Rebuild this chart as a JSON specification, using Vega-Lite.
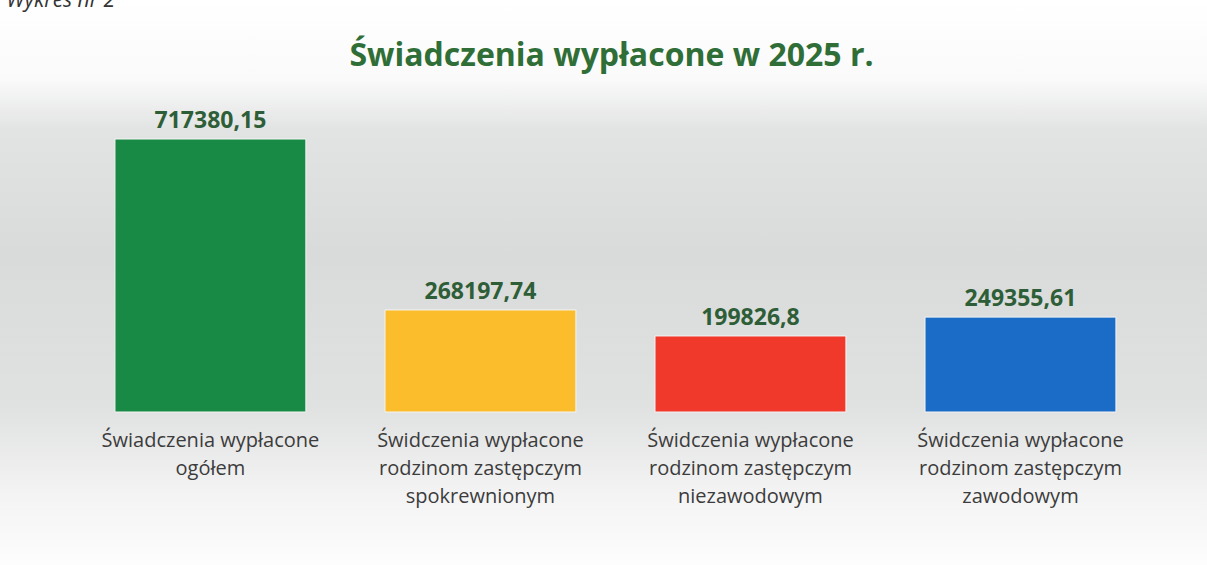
{
  "$schema": "https://vega.github.io/schema/vega-lite/v6.json",
  "width": 1207,
  "height": 565,
  "autosize": "none",
  "padding": 0,
  "background": "#ffffff",
  "config": {
    "locale": {"number": {"decimal": ",", "thousands": "\u00a0", "grouping": [3], "currency": ["", " zł"]}},
    "view": {
      "stroke": null,
      "fill": {
        "gradient": "linear", "x1": 0, "y1": 0, "x2": 0, "y2": 1,
        "stops": [
          {"offset": 0, "color": "#ffffff"},
          {"offset": 0.14, "color": "#fafafa"},
          {"offset": 0.23, "color": "#e2e3e3"},
          {"offset": 0.45, "color": "#d9dada"},
          {"offset": 0.72, "color": "#e0e1e1"},
          {"offset": 0.87, "color": "#f3f3f3"},
          {"offset": 1, "color": "#fdfdfd"}
        ]
      }
    },
    "font": "Open Sans"
  },
  "title": {
    "text": "Świadczenia wypłacone w 2025 r.",
    "anchor": "middle",
    "frame": "group",
    "fontSize": 32,
    "fontWeight": "bold",
    "font": "Open Sans",
    "color": "#2f6e36",
    "offset": -109,
    "baseline": "alphabetic",
    "dx": 8
  },
  "data": {
    "values": [
      {"kategoria": "Świadczenia wypłacone\nogółem", "wartosc": 717380.15, "kolor": "#188a45"},
      {"kategoria": "Świdczenia wypłacone\nrodzinom zastępczym\nspokrewnionym", "wartosc": 268197.74, "kolor": "#fbbd2b"},
      {"kategoria": "Świdczenia wypłacone\nrodzinom zastępczym\nniezawodowym", "wartosc": 199826.8, "kolor": "#f1392b"},
      {"kategoria": "Świdczenia wypłacone\nrodzinom zastępczym\nzawodowym", "wartosc": 249355.61, "kolor": "#1b6cc6"}
    ]
  },
  "encoding": {
    "x": {
      "field": "kategoria",
      "type": "nominal",
      "sort": null,
      "axis": null,
      "scale": {"paddingInner": 0.293, "paddingOuter": 0.3815, "align": 0.558}
    }
  },
  "layer": [
    {
      "mark": {"type": "bar", "stroke": "#f4f4f4", "strokeWidth": 1},
      "encoding": {
        "y": {
          "field": "wartosc",
          "type": "quantitative",
          "scale": {"domain": [-402044, 1082658], "nice": false, "zero": false},
          "axis": {
            "labels": false, "ticks": false, "domain": false, "grid": false,
            "title": "Wykres nr 2",
            "titleAngle": 0,
            "titleX": 6,
            "titleY": 6,
            "titleAlign": "left",
            "titleBaseline": "alphabetic",
            "titleFont": "Open Sans",
            "titleFontStyle": "italic",
            "titleFontWeight": "normal",
            "titleFontSize": 21,
            "titleColor": "#333333"
          }
        },
        "y2": {"datum": 0},
        "color": {"field": "kolor", "type": "nominal", "scale": null, "legend": null}
      }
    },
    {
      "mark": {"type": "text", "baseline": "bottom", "dy": -6, "fontSize": 23, "fontWeight": "bold", "font": "Open Sans", "color": "#2e5e37"},
      "encoding": {
        "y": {"field": "wartosc", "type": "quantitative"},
        "text": {"field": "wartosc", "type": "quantitative", "format": ".2~f"}
      }
    },
    {
      "mark": {"type": "text", "baseline": "top", "dy": 19, "fontSize": 20, "font": "Open Sans", "color": "#3c3c3c", "lineBreak": "\n", "lineHeight": 28},
      "encoding": {
        "y": {"datum": 0},
        "text": {"field": "kategoria", "type": "nominal"}
      }
    }
  ]
}
